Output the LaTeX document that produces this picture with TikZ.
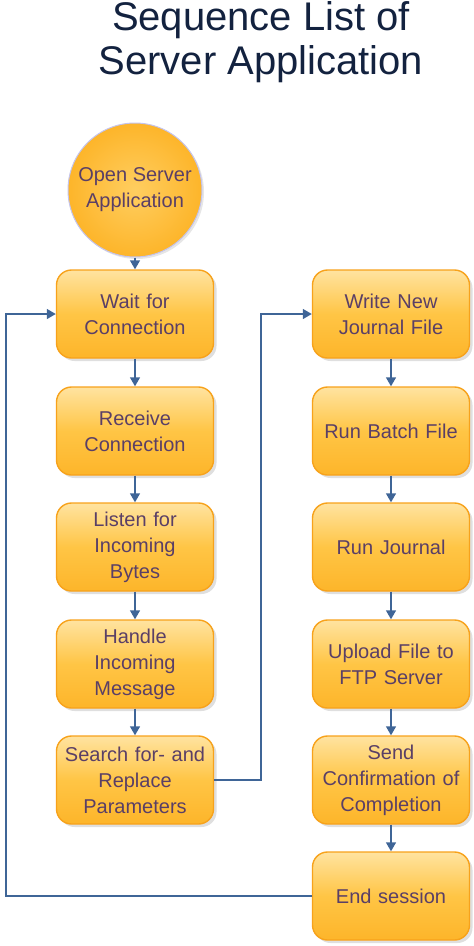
\documentclass[tikz,border=0pt]{standalone}
\usepackage{fontspec}
\setmainfont{Liberation Sans}
\usetikzlibrary{arrows.meta,shadows,calc}
\definecolor{boxtop}{HTML}{FFE3A0}
\definecolor{boxmid}{HTML}{FFC545}
\definecolor{boxbot}{HTML}{FDB52A}
\definecolor{boxedge}{HTML}{F7A21B}
\definecolor{txtcol}{HTML}{5A3F66}
\definecolor{linkcol}{HTML}{3F6597}
\definecolor{titlecol}{HTML}{13223F}
\tikzset{
  stepbox/.style={rectangle, rounded corners=15pt, minimum width=157pt, minimum height=88pt,
    inner xsep=3pt, text width=150pt, align=center, draw=boxedge, line width=1.4pt,
    top color=boxtop, bottom color=boxbot, middle color=boxmid,
    drop shadow={opacity=0.25, shadow xshift=3pt, shadow yshift=-3pt},
    text=txtcol, font=\fontsize{20}{26}\selectfont},
  startdisc/.style={circle, minimum size=134pt, inner sep=0pt, align=center,
    draw=gray!45!blue!30, line width=1pt,
    inner color=boxmid!70!boxtop, outer color=boxbot,
    drop shadow={opacity=0.2, shadow xshift=2pt, shadow yshift=-2pt},
    text=txtcol, font=\fontsize{20}{26}\selectfont},
  link/.style={draw=linkcol, line width=1.4pt, -{Triangle[width=10pt,length=9pt]}}
}
\begin{document}
\begin{tikzpicture}[x=1pt,y=-1pt]
\useasboundingbox (0,0) rectangle (474,946);
% title
\node[text=titlecol, font=\fontsize{40}{44}\selectfont, align=center] (title) at (261,42)
  {Sequence List of\\Server Application};
% left column
\node[startdisc] (open) at (135,190) {Open Server\\Application};
\node[stepbox] (wait) at (135,314) {Wait for\\Connection};
\node[stepbox] (recv) at (135,431) {Receive\\Connection};
\node[stepbox] (listen) at (135,547) {Listen for\\Incoming\\Bytes};
\node[stepbox] (handle) at (135,664) {Handle\\Incoming\\Message};
\node[stepbox] (search) at (135,780) {Search for- and\\Replace\\Parameters};
% right column
\node[stepbox] (write) at (391,314) {Write New\\Journal File};
\node[stepbox] (batch) at (391,431) {Run Batch File};
\node[stepbox] (journal) at (391,547) {Run Journal};
\node[stepbox] (upload) at (391,664) {Upload File to\\FTP Server};
\node[stepbox] (confirm) at (391,780) {Send\\Confirmation of\\Completion};
\node[stepbox] (endsess) at (391,896) {End session};
% corner points of the routed connectors
\coordinate (loopbot) at (6,896);
\coordinate (looptop) at (6,314);
\coordinate (jumpbot) at (261,780);
\coordinate (jumptop) at (261,314);
% straight flow
\draw[link] (open) -- (wait);
\draw[link] (wait) -- (recv);
\draw[link] (recv) -- (listen);
\draw[link] (listen) -- (handle);
\draw[link] (handle) -- (search);
\draw[link] (write) -- (batch);
\draw[link] (batch) -- (journal);
\draw[link] (journal) -- (upload);
\draw[link] (upload) -- (confirm);
\draw[link] (confirm) -- (endsess);
% routed connectors
\draw[link] (search.east) -- (jumpbot) -- (jumptop) -- (write.west);
\draw[link] (endsess.west) -- (loopbot) -- (looptop) -- (wait.west);
\end{tikzpicture}
\end{document}
